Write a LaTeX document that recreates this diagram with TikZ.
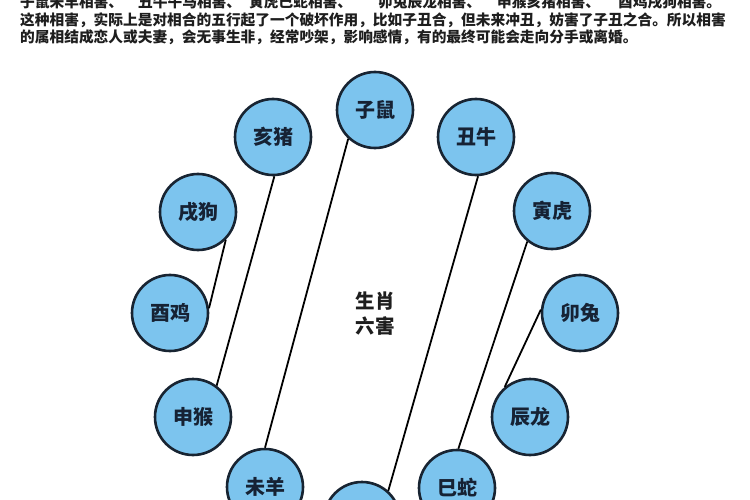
\documentclass[tikz,border=0pt]{standalone}
\usepackage{fontspec}
\newfontfamily\cjk{Noto Sans CJK SC}
\definecolor{fillblue}{RGB}{124,196,238}
\definecolor{ringdark}{RGB}{24,36,50}
\definecolor{txtdark}{RGB}{22,34,52}
\definecolor{toptxt}{RGB}{30,30,30}
\tikzset{
  zodiac/.style={circle, draw=ringdark, line width=2.6pt, fill=fillblue,
    minimum size=76pt, inner sep=0pt, font=\cjk\bfseries\fontsize{20}{20}\selectfont, text=txtdark},
  link/.style={draw=black, line width=1.8pt},
  topline/.style={anchor=west, inner sep=0pt, font=\cjk\bfseries\fontsize{14.7}{14.7}\selectfont, text=toptxt},
  centertxt/.style={inner sep=0pt, font=\cjk\bfseries\fontsize{19.5}{19.5}\selectfont, text=toptxt}
}
\begin{document}
\begin{tikzpicture}[x=1pt,y=-1pt]
\useasboundingbox (0,0) rectangle (750,500);
\clip (0,0) rectangle (750,500);
\fill[white] (0,0) rectangle (750,500);
% top text
\node[topline] (t1a) at (20,2) {子鼠未羊相害、};
\node[topline] (t1b) at (138,2) {丑牛午马相害、};
\node[topline] (t1c) at (249,2) {寅虎巳蛇相害、};
\node[topline] (t1d) at (378,2) {卯兔辰龙相害、};
\node[topline] (t1e) at (497,2) {申猴亥猪相害、};
\node[topline] (t1f) at (618,2) {酉鸡戌狗相害。};
\node[topline] (t2) at (20,20) {这种相害，实际上是对相合的五行起了一个破坏作用，比如子丑合，但未来冲丑，妨害了子丑之合。所以相害};
\node[topline] (t3) at (20,37) {的属相结成恋人或夫妻，会无事生非，经常吵架，影响感情，有的最终可能会走向分手或离婚。};
% circles
\node[zodiac] (zi)   at (375,110) {子鼠};
\node[zodiac] (chou) at (476,137) {丑牛};
\node[zodiac] (yin)  at (552,211) {寅虎};
\node[zodiac] (mao)  at (580,313) {卯兔};
\node[zodiac] (chen) at (530,417) {辰龙};
\node[zodiac] (si)   at (457,488) {巳蛇};
\node[zodiac] (wu)   at (362,520) {};
\node[zodiac] (wei)  at (265,487) {未羊};
\node[zodiac] (shen) at (193,417) {申猴};
\node[zodiac] (you)  at (170,313) {酉鸡};
\node[zodiac] (xu)   at (198,212) {戌狗};
\node[zodiac] (hai)  at (273,137) {亥猪};
% center
\node[centertxt] (c1) at (375,301) {生肖};
\node[centertxt] (c2) at (375,326) {六害};
% links
\draw[link] (zi.227) -- (wei.90);
\draw[link] (hai.-88) -- (shen.53);
\draw[link] (xu.-45) -- (you.7);
\draw[link] (chou.-87) -- (wu.48);
\draw[link] (yin.231) -- (si.88);
\draw[link] (mao.175) -- (chen.130);
\end{tikzpicture}
\end{document}
